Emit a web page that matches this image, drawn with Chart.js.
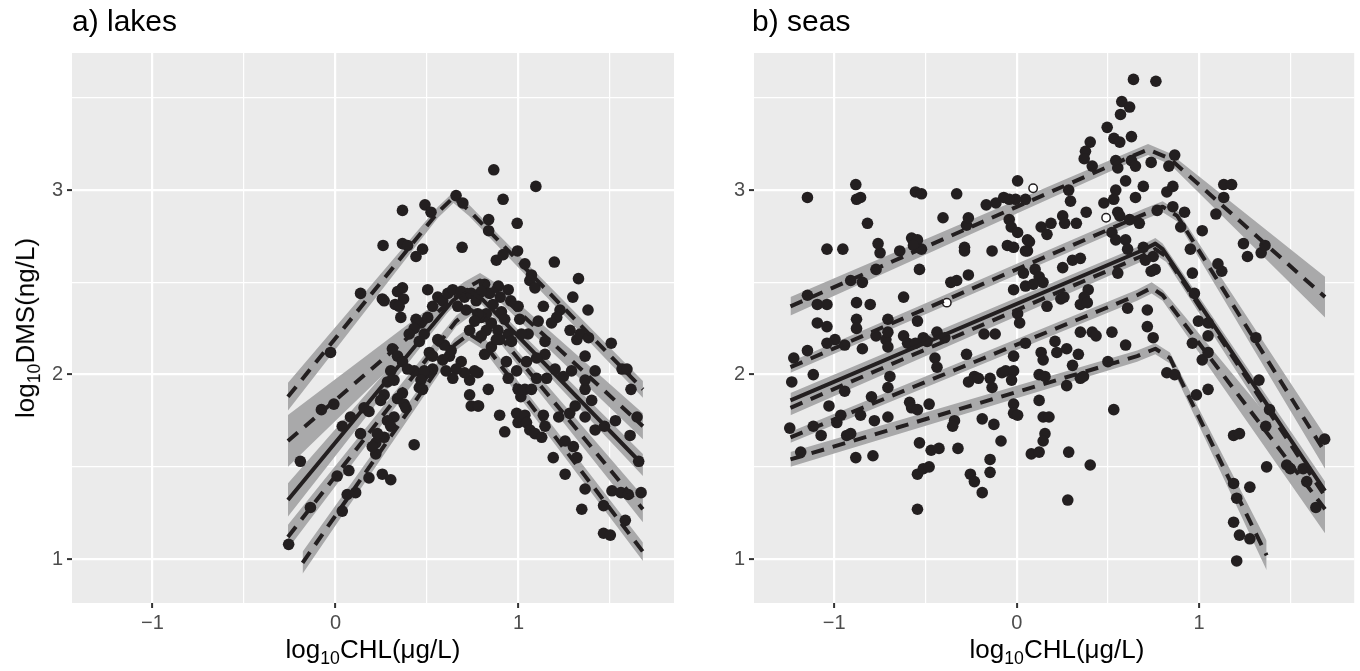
<!DOCTYPE html>
<html lang="en">
<head>
<meta charset="UTF-8">
<title>DMS vs CHL</title>
<script src="https://cdn.jsdelivr.net/npm/chart.js"></script>
<style>
    body {
        margin: 0;
        width: 1360px;
        height: 671px;
        background: #fff;
        overflow: hidden;
        position: relative;
        font-family: "Liberation Sans", Arial, Helvetica, sans-serif;
    }
    canvas { position: absolute; top: 0; }
    #lakes { left: 0; }
    #seas { left: 690px; }
    .title {
        position: absolute;
        top: 6px;
        font-size: 30px;
        line-height: 1;
        color: #000;
    }
    .xtitle {
        position: absolute;
        top: 636px;
        font-size: 26px;
        line-height: 1;
        text-align: center;
        color: #000;
    }
    .ytitle {
        position: absolute;
        left: 28px;
        top: 328px;
        font-size: 26px;
        line-height: 1;
        white-space: nowrap;
        transform: translate(-50%, -50%) rotate(-90deg);
        color: #000;
    }
    sub { font-size: 68%; vertical-align: -0.35em; }
</style>
</head>
<body>

<canvas id="lakes" width="690" height="671"></canvas>
<canvas id="seas" width="670" height="671"></canvas>

<div class="title" style="left:72px">a) lakes</div>
<div class="title" style="left:752px">b) seas</div>
<div class="ytitle">log<sub>10</sub>DMS(ng/L)</div>
<div class="xtitle" style="left:72px;width:602px">log<sub>10</sub>CHL(μg/L)</div>
<div class="xtitle" style="left:754px;width:606px">log<sub>10</sub>CHL(μg/L)</div>

<script>
// axis settings
const xTicks = [-1, -0.5, 0, 0.5, 1, 1.5];
const yTicks = [1, 1.5, 2, 2.5, 3, 3.5];
const xRange = [-1.44, 1.85];
const yRange = [0.762, 3.743];

// lakes observations [log10 CHL, log10 DMS]
const lakesPts = [
    [0.865,3.11],[1.095,3.02],[0.366,2.89],[0.489,2.92],[0.522,2.88],[0.659,2.97],[0.696,2.93],[0.916,2.95],
    [0.837,2.84],[0.837,2.78],[0.993,2.82],[0.26,2.70],[0.366,2.71],[0.394,2.70],[0.44,2.64],[0.476,2.68],
    [0.692,2.69],[0.879,2.62],[0.916,2.65],[0.995,2.67],[1.035,2.60],[1.196,2.61],[1.071,2.54],[1.062,2.51],
    [1.09,2.47],[1.328,2.52],[1.297,2.42],[1.38,2.35],[1.507,2.17],[1.566,2.03],[1.593,2.03],[1.615,1.92],
    [1.648,1.77],[1.61,1.67],[1.657,1.53],[1.67,1.36],[1.511,1.37],[1.56,1.36],[1.60,1.35],[1.584,1.21],
    [1.465,1.29],[1.465,1.14],[1.502,1.13],[1.346,1.27],[1.364,1.38],[1.255,1.46],[1.19,1.55],[1.319,1.55],
    [1.30,1.61],[1.255,1.64],[1.419,1.70],[1.47,1.72],[1.53,1.75],[1.364,1.77],[1.40,1.86],[1.28,1.79],
    [1.31,1.83],[1.22,1.77],[1.364,1.92],[1.364,1.97],[1.419,2.02],[1.29,2.02],[1.245,1.99],[1.20,2.03],
    [1.154,1.98],[1.099,1.98],[1.364,2.10],[1.319,2.19],[1.282,2.24],[1.337,2.22],[1.383,2.20],[1.227,2.35],
    [1.209,2.31],[1.181,2.28],[1.136,2.37],[1.108,2.29],[1.145,2.11],[1.145,2.18],[1.099,2.09],[1.053,2.22],
    [1.044,2.07],[1.016,2.22],[0.998,2.37],[1.007,2.30],[0.944,2.46],[0.958,2.40],[0.89,2.48],[0.90,2.42],
    [0.861,2.38],[0.815,2.49],[0.842,2.44],[0.797,2.45],[0.907,2.34],[0.925,2.30],[0.944,2.22],[0.962,2.18],
    [0.897,2.19],[0.888,2.24],[0.852,2.28],[0.824,2.24],[0.824,2.33],[0.797,2.31],[0.934,2.07],[0.944,1.98],
    [0.99,2.02],[0.998,1.92],[1.013,1.88],[1.035,1.92],[1.071,1.92],[0.99,1.79],[0.998,1.74],[1.035,1.78],
    [1.044,1.74],[1.062,1.70],[1.09,1.68],[1.127,1.66],[1.136,1.78],[1.145,1.72],[0.925,1.69],[0.897,1.78],
    [0.778,1.83],[0.733,1.89],[0.835,1.92],[0.778,2.01],[0.76,2.02],[0.733,1.97],[0.705,2.01],[0.687,2.07],
    [0.659,2.03],[0.641,1.98],[0.604,2.02],[0.623,2.10],[0.632,2.13],[0.595,2.16],[0.559,2.19],[0.586,2.08],
    [0.531,2.03],[0.504,2.01],[0.476,1.99],[0.458,1.93],[0.43,2.02],[0.513,2.12],[0.531,2.10],[0.458,2.18],
    [0.485,2.22],[0.467,2.28],[0.44,2.30],[0.504,2.31],[0.531,2.37],[0.559,2.42],[0.586,2.40],[0.614,2.44],
    [0.641,2.46],[0.687,2.45],[0.705,2.42],[0.668,2.37],[0.714,2.35],[0.742,2.44],[0.769,2.40],[0.778,2.33],
    [0.76,2.29],[0.733,2.24],[0.797,2.21],[0.852,2.15],[0.879,2.19],[0.815,2.11],[0.504,2.46],[0.366,2.47],
    [0.339,2.45],[0.372,2.41],[0.326,2.38],[0.348,2.37],[0.357,2.31],[0.256,2.41],[0.266,2.40],[0.137,2.44],
    [0.43,2.25],[0.403,2.22],[0.302,2.02],[0.284,1.96],[0.311,2.14],[0.339,2.10],[0.366,2.07],[0.394,2.03],
    [0.485,2.02],[0.467,1.97],[0.476,1.92],[0.32,1.97],[0.339,1.87],[0.366,1.90],[0.375,1.84],[0.385,1.82],
    [0.266,1.89],[0.247,1.86],[0.32,1.77],[0.284,1.75],[0.302,1.72],[0.266,1.66],[0.22,1.63],[0.156,1.82],
    [0.183,1.80],[0.082,1.77],[0.037,1.72],[0.137,1.68],[0.43,1.62],[-0.027,2.12],[-0.009,1.84],[-0.077,1.81],
    [-0.192,1.53],[0.009,1.45],[0.073,1.48],[0.064,1.35],[0.11,1.36],[-0.137,1.28],[0.183,1.44],[0.256,1.46],
    [0.302,1.43],[0.037,1.26],[-0.256,1.08],[0.22,1.57],[0.201,1.61],[0.229,1.68],[0.742,1.83],[0.782,1.83]
];

// seas observations
const seasPts = [
    [0.64,3.60],[0.763,3.59],[0.576,3.48],[0.619,3.45],[0.569,3.41],[0.496,3.34],[0.533,3.28],[0.565,3.26],
    [0.629,3.29],[0.403,3.26],[0.377,3.21],[0.37,3.17],[0.414,3.13],[0.543,3.16],[0.554,3.12],[0.629,3.16],
    [0.651,3.13],[0.737,3.15],[0.866,3.19],[0.834,3.13],[0.597,3.05],[0.694,3.02],[0.651,2.96],[0.823,2.99],
    [0.856,3.02],[0.543,3.0],[0.532,2.95],[0.478,2.93],[0.554,2.88],[0.565,2.86],[0.619,2.84],[0.672,2.82],
    [0.522,2.77],[0.543,2.73],[0.597,2.73],[0.608,2.68],[0.77,2.89],[0.856,2.91],[0.92,2.88],[0.899,2.80],
    [1.017,2.78],[1.092,2.87],[1.135,2.96],[1.135,3.03],[1.178,3.03],[0.952,2.68],[0.694,2.69],[0.748,2.64],
    [0.759,2.57],[0.705,2.62],[0.737,2.56],[0.554,2.55],[1.103,2.60],[1.124,2.56],[0.963,2.55],[1.243,2.71],
    [1.265,2.64],[1.34,2.66],[1.361,2.70],[0.974,2.44],[0.996,2.29],[1.049,2.28],[0.716,2.35],[0.716,2.26],
    [0.608,2.36],[0.392,2.46],[0.37,2.42],[0.349,2.38],[0.387,2.39],[0.166,2.37],[0.242,2.41],[0.259,2.42],
    [0.306,2.62],[0.349,2.63],[0.252,2.58],[0.101,2.57],[0.123,2.53],[0.144,2.50],[0.048,2.48],[0.091,2.49],
    [-0.017,2.46],[0.005,2.33],[0.016,2.28],[0.037,2.55],[0.059,2.67],[0.07,2.72],[0.134,2.80],[0.166,2.76],
    [0.188,2.82],[0.252,2.86],[0.263,2.82],[0.327,2.82],[0.381,2.88],[0.285,3.0],[0.295,2.94],[0.005,3.05],
    [0.048,2.95],[-0.006,2.95],[-0.041,2.95],[-0.071,2.96],[-0.114,2.93],[-0.167,2.92],[-0.041,2.84],[-0.03,2.80],
    [0.005,2.77],[-0.051,2.70],[-0.017,2.69],[0.059,2.73],[0.048,2.67],[-0.135,2.67],[-0.286,2.69],[-0.286,2.67],
    [-0.329,2.98],[-0.404,2.85],[-0.275,2.81],[-0.265,2.85],[-0.361,2.50],[-0.329,2.51],[-0.265,2.54],[-0.533,2.57],
    [-0.555,2.99],[-0.522,2.98],[-0.576,2.74],[-0.544,2.73],[-0.522,2.68],[-0.566,2.70],[-0.641,2.67],[-0.62,2.42],
    [-0.544,2.29],[-0.706,2.30],[-0.749,2.66],[-0.76,2.71],[-0.818,2.82],[-0.856,2.96],[-0.878,2.95],[-0.882,3.03],
    [-0.953,2.68],[-1.04,2.68],[-0.91,2.51],[-0.846,2.50],[-0.771,2.57],[-0.878,2.39],[-0.803,2.38],[-1.147,2.96],
    [-1.147,2.43],[-1.093,2.38],[-1.04,2.38],[-1.093,2.28],[-1.04,2.26],[-0.878,2.30],[-0.878,2.25],
    [-1.244,1.71],[-1.233,1.96],[-1.222,2.09],[-1.147,2.13],[-1.115,2.00],[-1.115,1.72],[-1.072,1.67],[-1.184,1.58],
    [-1.029,1.83],[-0.996,2.19],[-1.04,2.17],[-0.986,1.74],[-0.964,1.78],[-0.943,1.91],[-0.932,1.67],[-0.91,1.68],
    [-0.882,1.55],[-0.856,1.78],[-0.846,2.14],[-0.796,1.88],[-0.788,1.56],[-0.78,1.75],[-0.706,1.77],[-0.771,2.21],
    [-0.717,2.19],[-0.706,2.23],[-0.706,2.15],[-0.695,1.99],[-0.706,1.93],[-0.62,2.21],[-0.598,2.17],[-0.587,1.85],
    [-0.576,1.82],[-0.544,1.81],[-0.533,1.63],[-0.544,1.46],[-0.512,1.49],[-0.48,1.50],[-0.544,1.27],[-0.512,2.20],
    [-0.491,2.18],[-0.48,1.84],[-0.469,1.59],[-0.426,1.60],[-0.437,2.23],[-0.448,2.09],[-0.437,2.04],[-0.341,1.75],
    [-0.351,1.72],[-0.322,1.60],[-0.275,2.11],[-0.264,1.96],[-0.232,1.99],[-0.21,1.98],[-0.254,1.46],[-0.232,1.42],
    [-0.189,1.36],[-0.189,1.76],[-0.146,1.54],[-0.146,1.47],[-0.125,1.73],[-0.146,1.98],[-0.135,1.93],[-0.118,2.22],
    [-0.086,1.64],[-0.081,2.01],[-0.06,2.02],[-0.017,2.02],[-0.028,1.97],[-0.017,2.10],[-0.017,1.84],[-0.017,1.79],
    [0.005,1.78],[0.048,2.17],[0.08,1.57],[0.123,1.58],[0.123,2.00],[0.155,1.99],[0.134,2.12],[0.145,2.08],
    [0.123,1.86],[0.145,1.77],[0.177,1.77],[0.155,1.68],[0.145,1.64],[0.21,2.18],[0.22,2.12],[0.274,2.14],
    [0.274,1.94],[0.285,1.58],[0.28,1.32],[0.306,2.05],[0.349,1.98],[0.366,1.99],[0.349,2.23],[0.414,2.23],
    [0.435,2.21],[0.403,1.51],[0.5,2.07],[0.522,2.23],[0.532,1.81],[0.597,2.16],[0.748,2.20],[0.823,2.01],
    [0.866,2.00],[0.963,2.17],[1.017,2.08],[1.049,2.12],[1.049,2.21],[0.985,1.89],[1.049,1.92],[1.189,1.67],
    [1.221,1.68],[1.189,1.41],[1.206,1.33],[1.278,1.39],[1.189,1.20],[1.221,1.13],[1.278,1.11],[1.206,0.99],
    [1.311,2.20],[1.328,1.97],[1.386,1.81],[1.365,1.72],[1.37,1.50],[1.48,1.51],[1.50,1.49],[1.57,1.49],
    [1.59,1.42],[1.64,1.28],[1.688,1.65],[0.338,2.11],[-0.555,2.17],[-0.943,2.16],[-0.394,2.20],[-0.179,2.22]
];
const seasOpen = [[0.09,3.01],[0.49,2.85],[-0.383,2.39]];

// fitted broken-stick lines: x, y and ribbon half-width at each vertex
const lakesFitX = [
    [-0.26, 0.56, 0.645, 0.73, 1.68],
    [-0.26, 0.70, 0.79, 0.87, 1.68],
    [-0.26, 0.64, 0.72, 0.80, 1.68],
    [-0.26, 0.66, 0.74, 0.82, 1.68],
    [-0.18, 0.65, 0.73, 0.81, 1.68]
];
const lakesFitY = [
    [1.88, 2.88, 2.96, 2.89, 1.92],
    [1.64, 2.46, 2.51, 2.46, 1.72],
    [1.32, 2.40, 2.46, 2.41, 1.51],
    [1.12, 2.29, 2.35, 2.30, 1.27],
    [0.98, 2.16, 2.22, 2.17, 1.04]
];
const lakesFitHw = [
    [0.075, 0.03, 0.03, 0.03, 0.045],
    [0.14, 0.04, 0.04, 0.04, 0.07],
    [0.09, 0.03, 0.03, 0.03, 0.06],
    [0.065, 0.03, 0.03, 0.03, 0.07],
    [0.06, 0.035, 0.035, 0.035, 0.05]
];
const lakesSolid = 2;

const seasFitX = [
    [-1.24, 0.60, 0.72, 0.84, 1.69],
    [-1.24, 0.70, 0.80, 0.88, 1.69],
    [-1.24, 0.68, 0.76, 0.80, 1.69],
    [-1.24, 0.68, 0.76, 0.82, 1.69],
    [-1.24, 0.66, 0.74, 0.80, 1.69],
    [-1.24, 0.66, 0.76, 0.84, 1.37]
];
const seasFitY = [
    [2.37, 3.17, 3.22, 3.17, 2.42],
    [2.04, 2.87, 2.91, 2.86, 1.58],
    [1.86, 2.67, 2.71, 2.68, 1.37],
    [1.82, 2.64, 2.68, 2.64, 1.34],
    [1.66, 2.43, 2.47, 2.43, 1.27],
    [1.54, 2.10, 2.14, 2.09, 1.02]
];
const seasFitHw = [
    [0.05, 0.03, 0.03, 0.03, 0.11],
    [0.03, 0.03, 0.03, 0.03, 0.09],
    [0.04, 0.03, 0.03, 0.03, 0.05],
    [0.04, 0.03, 0.03, 0.03, 0.07],
    [0.03, 0.03, 0.03, 0.03, 0.13],
    [0.04, 0.03, 0.03, 0.03, 0.08]
];
const seasSolid = 2;

const INK = '#231f20';
const RIBBON = '#a9a9aa';
const FONT = '"Liberation Sans", Arial, Helvetica, sans-serif';

const panelBg = {
    id: 'panelBg',
    beforeDraw(chart) {
        const a = chart.chartArea;
        chart.ctx.save();
        chart.ctx.fillStyle = '#ebebeb';
        chart.ctx.fillRect(a.left, a.top, a.right - a.left, a.bottom - a.top);
        chart.ctx.restore();
    }
};

function isMinor(ctx) {
    return ctx.tick && Math.abs(ctx.tick.value % 1) > 1e-9;
}

function tickLabel(v) {
    if (Math.abs(v % 1) > 1e-9) return '';
    return v < 0 ? '\u2212' + Math.abs(v) : String(v);
}

function drawPanel(id, pts, open, fx, fy, fhw, solidIdx, yWidth, padRight) {
    const ds = [];
    fx.forEach((xs, i) => {
        ds.push({
            data: xs.map((x, j) => ({ x: x, y: fy[i][j] + fhw[i][j] })),
            borderColor: 'rgba(0,0,0,0)', borderWidth: 0, pointRadius: 0,
            fill: false, order: 2
        });
        ds.push({
            data: xs.map((x, j) => ({ x: x, y: fy[i][j] - fhw[i][j] })),
            borderColor: 'rgba(0,0,0,0)', borderWidth: 0, pointRadius: 0,
            fill: '-1', backgroundColor: RIBBON, order: 2
        });
    });
    ds.push({
        data: pts.map(p => ({ x: p[0], y: p[1] })),
        showLine: false, pointRadius: 5.8, pointBackgroundColor: INK,
        pointBorderWidth: 0, order: 1
    });
    if (open.length) {
        ds.push({
            data: open.map(p => ({ x: p[0], y: p[1] })),
            showLine: false, pointRadius: 4.2, pointBackgroundColor: '#fff',
            pointBorderColor: INK, pointBorderWidth: 1.5, order: 1
        });
    }
    fx.forEach((xs, i) => {
        ds.push({
            data: xs.map((x, j) => ({ x: x, y: fy[i][j] })),
            borderColor: INK, borderWidth: 4,
            borderDash: i === solidIdx ? [] : [13, 9],
            borderCapStyle: 'butt', borderJoinStyle: 'round',
            pointRadius: 0, fill: false, order: 0
        });
    });

    const gridOpts = {
        color: '#ffffff',
        lineWidth: ctx => isMinor(ctx) ? 1.2 : 2.2,
        tickColor: ctx => isMinor(ctx) ? 'rgba(0,0,0,0)' : '#333333',
        tickLength: 5,
        tickWidth: 2
    };

    new Chart(document.getElementById(id), {
        type: 'line',
        data: { datasets: ds },
        options: {
            responsive: false,
            animation: false,
            devicePixelRatio: 1,
            layout: { padding: { top: 53, right: padRight, left: 0, bottom: 0 } },
            plugins: { legend: { display: false }, tooltip: { enabled: false } },
            scales: {
                x: {
                    type: 'linear', min: xRange[0], max: xRange[1],
                    afterBuildTicks: s => { s.ticks = xTicks.map(v => ({ value: v })); },
                    afterFit: s => { s.height = 68; },
                    ticks: { callback: tickLabel, color: '#4d4d4d', padding: 3, maxRotation: 0, autoSkip: false,
                             font: { family: FONT, size: 20 } },
                    grid: gridOpts,
                    border: { display: false }
                },
                y: {
                    type: 'linear', min: yRange[0], max: yRange[1],
                    afterBuildTicks: s => { s.ticks = yTicks.map(v => ({ value: v })); },
                    afterFit: s => { s.width = yWidth; },
                    ticks: { callback: tickLabel, color: '#4d4d4d', padding: 4, autoSkip: false,
                             font: { family: FONT, size: 20 } },
                    grid: gridOpts,
                    border: { display: false }
                }
            }
        },
        plugins: [panelBg]
    });
}

drawPanel('lakes', lakesPts, [], lakesFitX, lakesFitY, lakesFitHw, lakesSolid, 72, 16);
drawPanel('seas', seasPts, seasOpen, seasFitX, seasFitY, seasFitHw, seasSolid, 64, 0);
</script>
</body>
</html>
